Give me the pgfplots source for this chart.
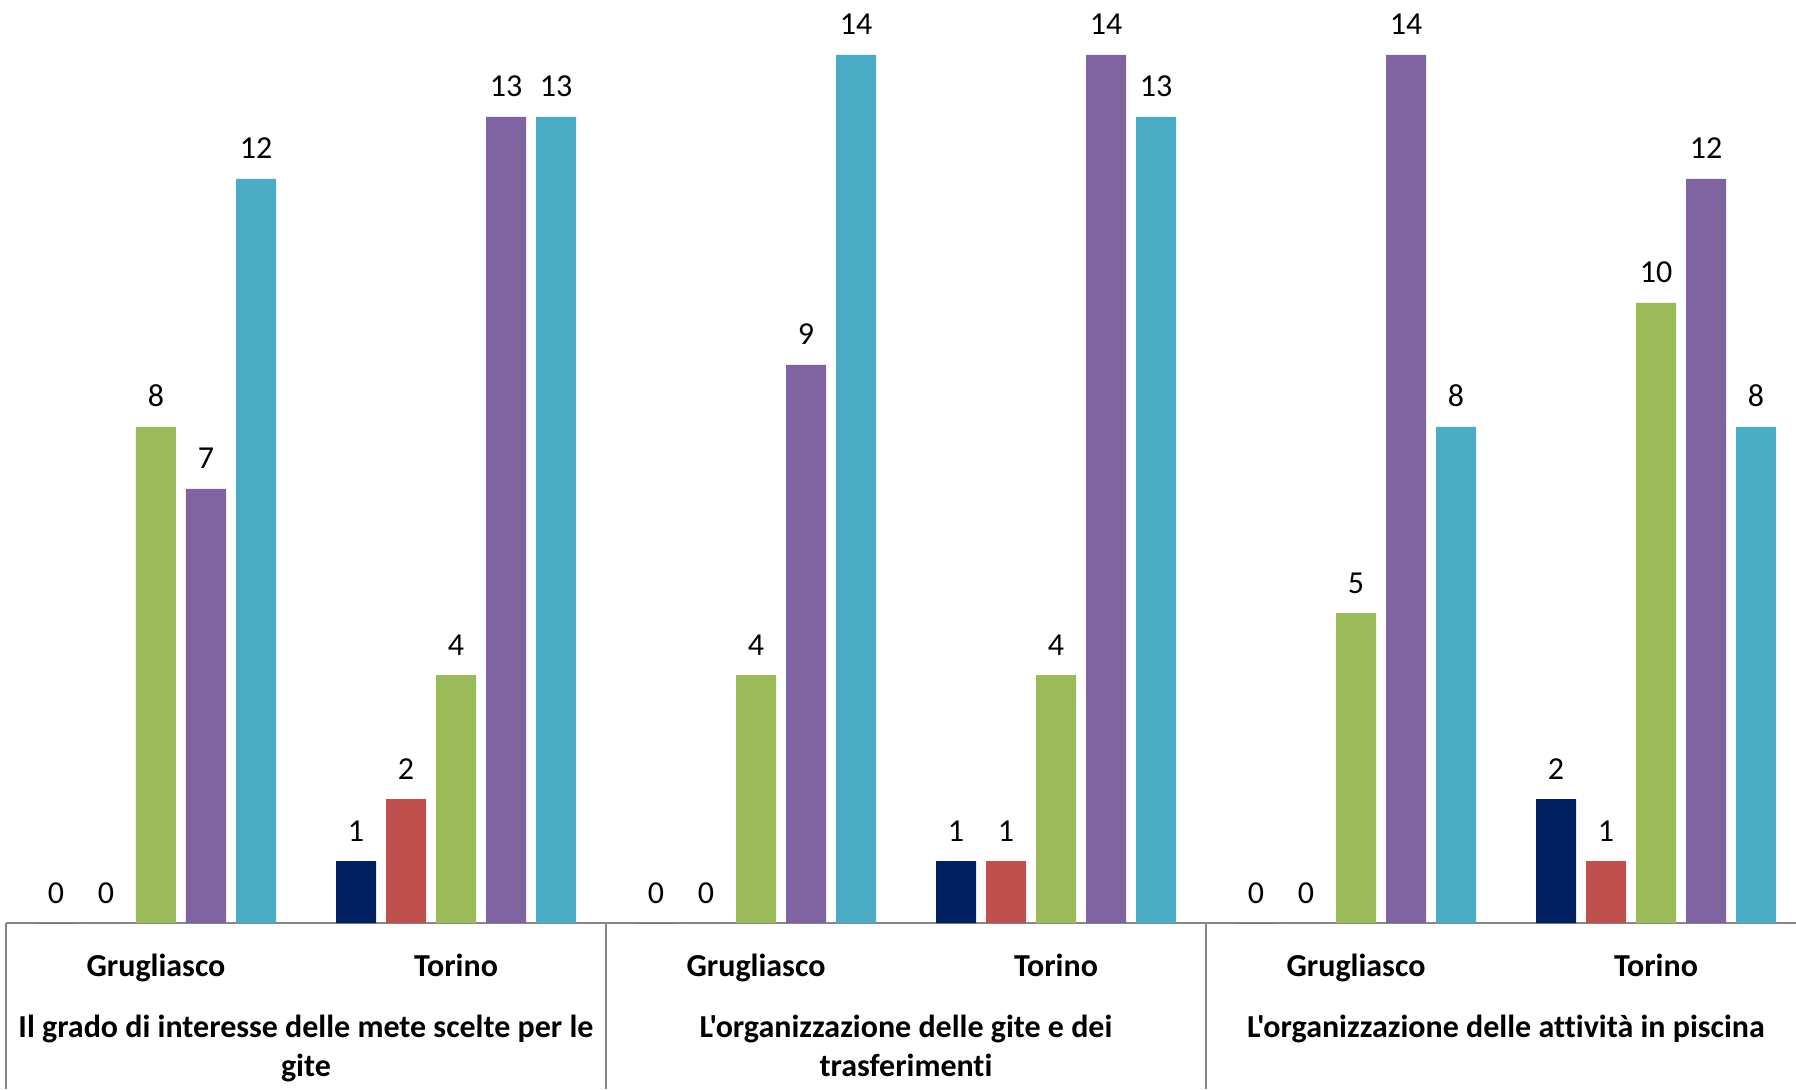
\documentclass[border=0pt]{standalone}
\usepackage{pgfplots}
\pgfplotsset{compat=1.18}
\usepackage{fontspec}
\setmainfont{Carlito}[Ligatures={NoCommon}]
\newfontfamily\plainfont{Carlito}[Ligatures={NoCommon}]
\definecolor{cNavy}{RGB}{0,32,96}
\definecolor{cRed}{RGB}{192,80,77}
\definecolor{cGreen}{RGB}{155,187,89}
\definecolor{cPurple}{RGB}{128,100,162}
\definecolor{cTeal}{RGB}{75,172,198}
\definecolor{axisgray}{RGB}{134,134,134}
\newcommand{\lblfont}{\fontsize{16}{19}\selectfont}
\begin{document}
\begin{tikzpicture}
\begin{axis}[name=ax, scale only axis, width=895pt, height=461.5pt,
  xmin=-0.5, xmax=5.4667, ymin=0, ymax=14.887,
  /pgf/number format/assume math mode=true,
  axis x line=bottom, axis y line=none,
  x axis line style={-, draw=axisgray, line width=0.75pt},
  ytick=\empty, xtick={0,...,5},
  xticklabels={Grugliasco,Torino,Grugliasco,Torino,Grugliasco,Torino},
  major tick length=0pt,
  xticklabel style={font=\lblfont\bfseries, anchor=base, yshift=-26.5pt},
  ybar, bar width=20pt,
  nodes near coords,
  every node near coord/.append style={font=\lblfont, anchor=base, yshift=10pt, text=black},
  clip=false]
\addplot[fill=cNavy, draw=none, bar shift=-50pt] coordinates {(0,0) (1,1) (2,0) (3,1) (4,0) (5,2)};
\addplot[fill=cRed, draw=none, bar shift=-25pt] coordinates {(0,0) (1,2) (2,0) (3,1) (4,0) (5,1)};
\addplot[fill=cGreen, draw=none, bar shift=0pt] coordinates {(0,8) (1,4) (2,4) (3,4) (4,5) (5,10)};
\addplot[fill=cPurple, draw=none, bar shift=25pt] coordinates {(0,7) (1,13) (2,9) (3,14) (4,14) (5,12)};
\addplot[fill=cTeal, draw=none, bar shift=50pt] coordinates {(0,12) (1,13) (2,14) (3,13) (4,8) (5,8)};
\draw[axisgray, line width=0.75pt] (axis cs:-0.5,0) -- ([yshift=-83pt]axis cs:-0.5,0);
\draw[axisgray, line width=0.75pt] (axis cs:1.5,0) -- ([yshift=-83pt]axis cs:1.5,0);
\draw[axisgray, line width=0.75pt] (axis cs:3.5,0) -- ([yshift=-83pt]axis cs:3.5,0);
\node[anchor=base, font=\plainfont\lblfont\bfseries] at ([yshift=-57pt]axis cs:0.5,0) {Il grado di interesse delle mete scelte per le};
\node[anchor=base, font=\plainfont\lblfont\bfseries] at ([yshift=-76.5pt]axis cs:0.5,0) {gite};
\node[anchor=base, font=\plainfont\lblfont\bfseries] at ([yshift=-57pt]axis cs:2.5,0) {L'organizzazione delle gite e dei};
\node[anchor=base, font=\plainfont\lblfont\bfseries] at ([yshift=-76.5pt]axis cs:2.5,0) {trasferimenti};
\node[anchor=base, font=\plainfont\lblfont\bfseries] at ([yshift=-57pt]axis cs:4.5,0) {L'organizzazione delle attività in piscina};
\end{axis}
\pgfresetboundingbox
\path[use as bounding box] ([xshift=-3pt, yshift=-83pt]ax.south west) rectangle (ax.north east);
\end{tikzpicture}
\end{document}
